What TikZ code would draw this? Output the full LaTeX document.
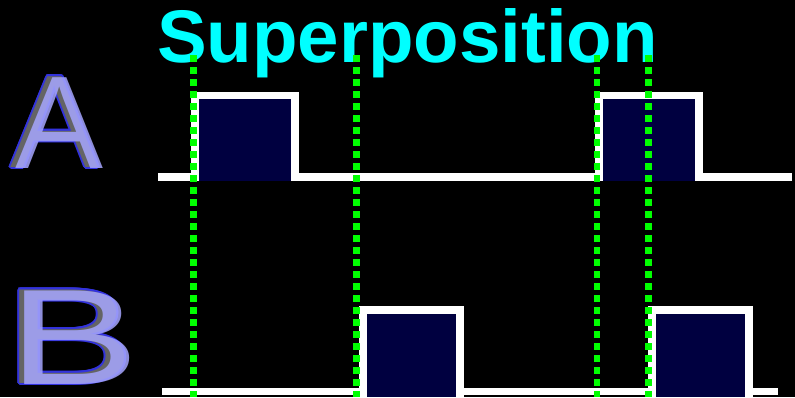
\documentclass[tikz,border=0pt]{standalone}
\usepackage{fontspec}
\usepackage{graphicx}
\setmainfont{Liberation Sans}
\usetikzlibrary{calc}
\definecolor{navyfill}{RGB}{0,0,64}
\definecolor{sig}{RGB}{0,255,0}
\definecolor{titlecyan}{RGB}{0,255,255}
\definecolor{letterblue}{RGB}{51,51,221}
\definecolor{letterfront}{RGB}{166,166,255}
\definecolor{lettershade}{RGB}{100,100,100}
\tikzset{
  baseline/.style={draw=white, line width=7.5pt, line cap=butt},
  pulse/.style={draw=white, fill=navyfill, line width=7.5pt, line join=miter},
  marker/.style={draw=sig, line width=6.5pt, dash pattern=on 7pt off 5pt},
  lettertxt/.style={inner sep=0pt, anchor=base},
  titletxt/.style={font=\bfseries\fontsize{74.5}{74.5}\selectfont, text=titlecyan, inner sep=0pt, anchor=base}
}
\begin{document}
\begin{tikzpicture}[x=1pt,y=-1pt]
\fill[black] (0,0) rectangle (795,397);
\useasboundingbox (0,0) rectangle (795,397);
% title
\node[titletxt] (title) at (407.5,62) {Superposition};
% letter A
\foreach \a in {0,30,...,330}
  \node[lettertxt, font=\fontsize{132}{132}\selectfont, text=letterblue] at ($(55,167)+(\a:2pt)$) {A};
\node[lettertxt, font=\fontsize{132}{132}\selectfont, text=lettershade] (Aback) at (55,167) {A};
\node[lettertxt, font=\fontsize{132}{132}\selectfont, text=letterfront, opacity=0.85] (Afront) at (60,168) {A};
% letter B
\foreach \a in {0,30,...,330}
  \node[lettertxt, font=\fontsize{136}{136}\selectfont, text=letterblue] at ($(69.5,383)+(\a:2pt)$) {\scalebox{1.45}[1]{B}};
\node[lettertxt, font=\fontsize{136}{136}\selectfont, text=lettershade] (Bback) at (69.5,383) {\scalebox{1.45}[1]{B}};
\node[lettertxt, font=\fontsize{136}{136}\selectfont, text=letterfront, opacity=0.85] (Bfront) at (74.5,384) {\scalebox{1.45}[1]{B}};
% signal A
\draw[baseline] (158,177) -- (792,177);
\draw[pulse] (195,181) -- (195,95.5) -- (295,95.5) -- (295,181);
\draw[pulse] (599,181) -- (599,95.5) -- (699,95.5) -- (699,181);
% signal B
\draw[baseline] (162,391.5) -- (778,391.5);
\draw[pulse] (363,397) -- (363,310) -- (460,310) -- (460,397);
\draw[pulse] (652,397) -- (652,310) -- (749,310) -- (749,397);
% markers
\draw[marker] (193.5,55) -- (193.5,397);
\draw[marker] (356.5,55) -- (356.5,397);
\draw[marker] (597,55) -- (597,397);
\draw[marker] (648.5,55) -- (648.5,397);
\end{tikzpicture}
\end{document}
